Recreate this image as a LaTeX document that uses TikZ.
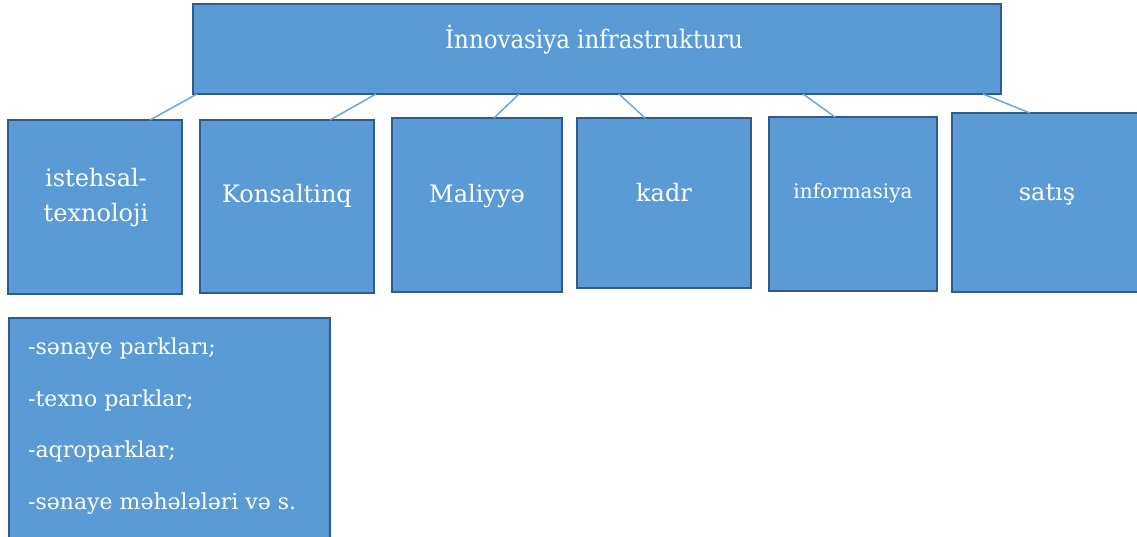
\documentclass[tikz,border=0pt]{standalone}
\usepackage{fontspec}
\setmainfont{DejaVu Serif}
\newfontfamily\condserif{DejaVu Serif Condensed}
\definecolor{boxfill}{HTML}{5B9BD5}
\definecolor{boxline}{HTML}{2F5C8A}
\definecolor{conn}{HTML}{6FA6DA}
\begin{document}
\begin{tikzpicture}[x=1pt,y=-1pt,
  box/.style={draw=boxline,line width=2.3pt,fill=boxfill,inner sep=0pt,outer sep=0pt},
  lbl/.style={text=white,font=\fontsize{24}{35}\selectfont,align=center,inner sep=0pt},
  conline/.style={draw=conn,line width=1.5pt}]
\useasboundingbox (0,0) rectangle (1137,537);
\clip (0,0) rectangle (1137,537);
\node[box,minimum width=808pt,minimum height=90pt] (top) at (597,49) {};
\node[text=white,font=\condserif\fontsize{25.5}{30}\selectfont,inner sep=0pt] (toptxt) at (594,40) {İnnovasiya infrastrukturu};
\node[box,minimum width=174pt,minimum height=174pt] (b1) at (95,207) {};
\node[box,minimum width=174pt,minimum height=173pt] (b2) at (287,206.5) {};
\node[box,minimum width=170pt,minimum height=174pt] (b3) at (477,205) {};
\node[box,minimum width=174pt,minimum height=170pt] (b4) at (664,203) {};
\node[box,minimum width=168pt,minimum height=174pt] (b5) at (853,204) {};
\node[box,minimum width=186pt,minimum height=179pt] (b6) at (1045,202.5) {};
\node[lbl] (t1) at (96,198) {istehsal-\\texnoloji};
\node[lbl] (t2) at (287,196) {Konsaltinq};
\node[lbl] (t3) at (477,196) {Maliyyə};
\node[lbl] (t4) at (664,193) {kadr};
\node[lbl,font=\fontsize{20}{24}\selectfont] (t5) at (853,193) {informasiya};
\node[lbl] (t6) at (1047,195) {satış};
\coordinate (c1) at (197,94); \coordinate (c2) at (376,94); \coordinate (c3) at (519,94);
\coordinate (c4) at (619,94); \coordinate (c5) at (803,94); \coordinate (c6) at (983,94);
\draw[conline] (c1) -- (150,120);
\draw[conline] (c2) -- (330,120);
\draw[conline] (c3) -- (494,118);
\draw[conline] (c4) -- (645,118);
\draw[conline] (c5) -- (835,117);
\draw[conline] (c6) -- (1030,113);
\node[box,minimum width=321pt,minimum height=240pt,anchor=north west] (list) at (9,318) {};
\node[text=white,font=\fontsize{22}{51.5}\selectfont,align=left,anchor=north west,inner sep=0pt] (listtxt) at (28,338) {-sənaye parkları;\\-texno parklar;\\-aqroparklar;\\-sənaye məhələləri və s.};
\end{tikzpicture}
\end{document}
